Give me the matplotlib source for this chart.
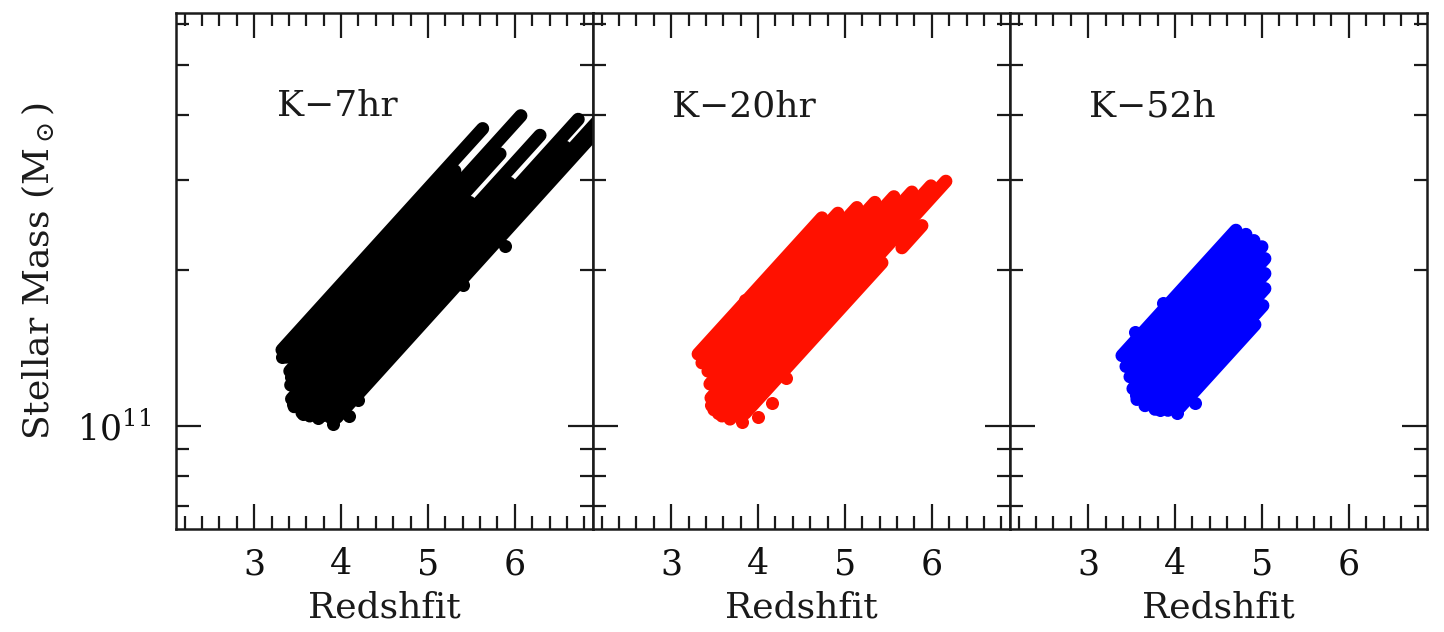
import matplotlib
matplotlib.use("Agg")
import matplotlib.pyplot as plt
from matplotlib.ticker import MultipleLocator, LogLocator, NullFormatter, FixedFormatter, FixedLocator
import numpy as np

plt.rcParams["font.family"] = ["DejaVu Serif", "DejaVu Sans"]
plt.rcParams["mathtext.fontset"] = "dejavuserif"

# ---- photometric-redshift / stellar-mass tracks (log10 M*/Msun) ----
# Each track runs from (z0, logM0) to (z1, logM1); dots are isolated solutions.
K7_z0 = [3.32, 3.37, 3.41, 3.42, 3.43, 3.46, 3.55, 3.64, 3.78, 3.87, 3.95]
K7_z1 = [5.63, 5.31, 6.07, 5.83, 5.48, 6.29, 5.94, 6.73, 6.58, 7.00, 7.00]
K7_m0 = [11.147, 11.133, 11.106, 11.079, 11.052, 11.037, 11.025, 11.019, 11.019, 11.017, 11.016]
K7_m1 = [11.576, 11.494, 11.601, 11.527, 11.433, 11.563, 11.470, 11.594, 11.540, 11.599, 11.583]
K7_dot_z = [3.32, 3.42, 3.45, 3.56, 3.73, 3.91, 4.09, 4.19, 5.40, 5.89]
K7_dot_m = [11.133, 11.095, 11.042, 11.023, 11.015, 11.003, 11.019, 11.050, 11.273, 11.349]

K20_z0 = [3.310, 3.354, 3.423, 3.446, 3.458, 3.492, 3.584, 3.677, 3.849, 5.656]
K20_z1 = [4.735, 4.919, 5.138, 5.345, 5.564, 5.771, 5.990, 6.162, 5.426, 5.886]
K20_m0 = [11.139, 11.122, 11.106, 11.081, 11.054, 11.031, 11.019, 11.013, 11.024, 11.345]
K20_m1 = [11.403, 11.412, 11.423, 11.433, 11.444, 11.453, 11.465, 11.474, 11.316, 11.388]
K20_dot_z = [3.458, 3.538, 3.815, 4.000, 4.160, 4.320, 3.850]
K20_dot_m = [11.040, 11.025, 11.007, 11.017, 11.044, 11.093, 11.243]

K52_z0 = [3.389, 3.435, 3.481, 3.515, 3.561, 3.654, 3.769, 3.918, 4.056]
K52_z1 = [4.701, 4.816, 4.908, 5.000, 5.034, 5.034, 5.034, 5.011, 4.919]
K52_m0 = [11.136, 11.115, 11.095, 11.072, 11.051, 11.039, 11.032, 11.030, 11.036]
K52_m1 = [11.379, 11.371, 11.359, 11.347, 11.324, 11.295, 11.266, 11.233, 11.196]
K52_dot_z = [3.504, 3.550, 3.538, 3.861, 3.829, 4.025, 4.232]
K52_dot_m = [11.104, 11.060, 11.182, 11.238, 11.031, 11.025, 11.044]

panel_names = ["K\u22127hr", "K\u221220hr", "K\u221252h"]
panel_colors = ["#000000", "#ff1100", "#0000ff"]
panel_tracks = [
    (K7_z0, K7_z1, K7_m0, K7_m1, K7_dot_z, K7_dot_m),
    (K20_z0, K20_z1, K20_m0, K20_m1, K20_dot_z, K20_dot_m),
    (K52_z0, K52_z1, K52_m0, K52_m1, K52_dot_z, K52_dot_m),
]
x_ticks = [3, 4, 5, 6]
x_tick_labels = ["3", "4", "5", "6"]

W, H = 1444, 632
fig = plt.figure(figsize=(W / 100, H / 100), dpi=100)

ax_left, ax_w = 176 / W, 417 / W
ax_bot, ax_h = 1 - 529 / H, 516 / H

lw_pt = 9.4
for i, (name, col, trk) in enumerate(zip(panel_names, panel_colors, panel_tracks)):
    ax = fig.add_axes([ax_left + i * ax_w, ax_bot, ax_w, ax_h])
    z0, z1, m0, m1, dz, dm = trk
    for a, b, c, d in zip(z0, z1, m0, m1):
        ax.plot([a, b], [10 ** c, 10 ** d], color=col, lw=lw_pt,
                solid_capstyle="round", solid_joinstyle="round")
    ax.plot(dz, 10 ** np.array(dm), "o", color=col, ms=lw_pt, mew=0)

    ax.set_yscale("log")
    ax.set_ylim(10 ** 10.8, 10 ** 11.8)
    ax.set_xlim(2.1, 6.9)

    ax.xaxis.set_major_locator(FixedLocator(x_ticks))
    ax.xaxis.set_major_formatter(FixedFormatter(x_tick_labels))
    ax.xaxis.set_minor_locator(MultipleLocator(0.2))
    ax.yaxis.set_major_locator(FixedLocator([1e11]))
    ax.yaxis.set_major_formatter(FixedFormatter([r"$10^{11}$"]))
    ax.yaxis.set_minor_locator(LogLocator(base=10, subs=np.arange(2, 10)))
    ax.yaxis.set_minor_formatter(NullFormatter())

    ax.tick_params(which="both", direction="in", top=True, right=True,
                   width=1.6, color="#1a1a1a", labelsize=25, labelcolor="#111111")
    ax.tick_params(which="major", length=18)
    ax.tick_params(which="minor", length=9.5)
    ax.tick_params(axis="x", which="major", pad=13)
    ax.tick_params(axis="y", which="major", pad=18)
    if i > 0:
        ax.tick_params(axis="y", labelleft=False)
    for sp in ax.spines.values():
        sp.set_linewidth(1.8)
        sp.set_color("#1a1a1a")

    ax.text(0.242 if i == 0 else 0.19, 0.80, name, transform=ax.transAxes,
            fontsize=26, ha="left", va="baseline", color="#1a1a1a")

    ax.set_xlabel("Redshfit", fontsize=26, color="#1a1a1a")
    ax.xaxis.set_label_coords(0.5, -0.12)

fig.text(38 / W, 1 - 271 / H, r"Stellar Mass (M$_\odot$)", rotation=90,
         ha="center", va="center", fontsize=26, color="#1a1a1a")

fig.savefig("out.png", dpi=100)
